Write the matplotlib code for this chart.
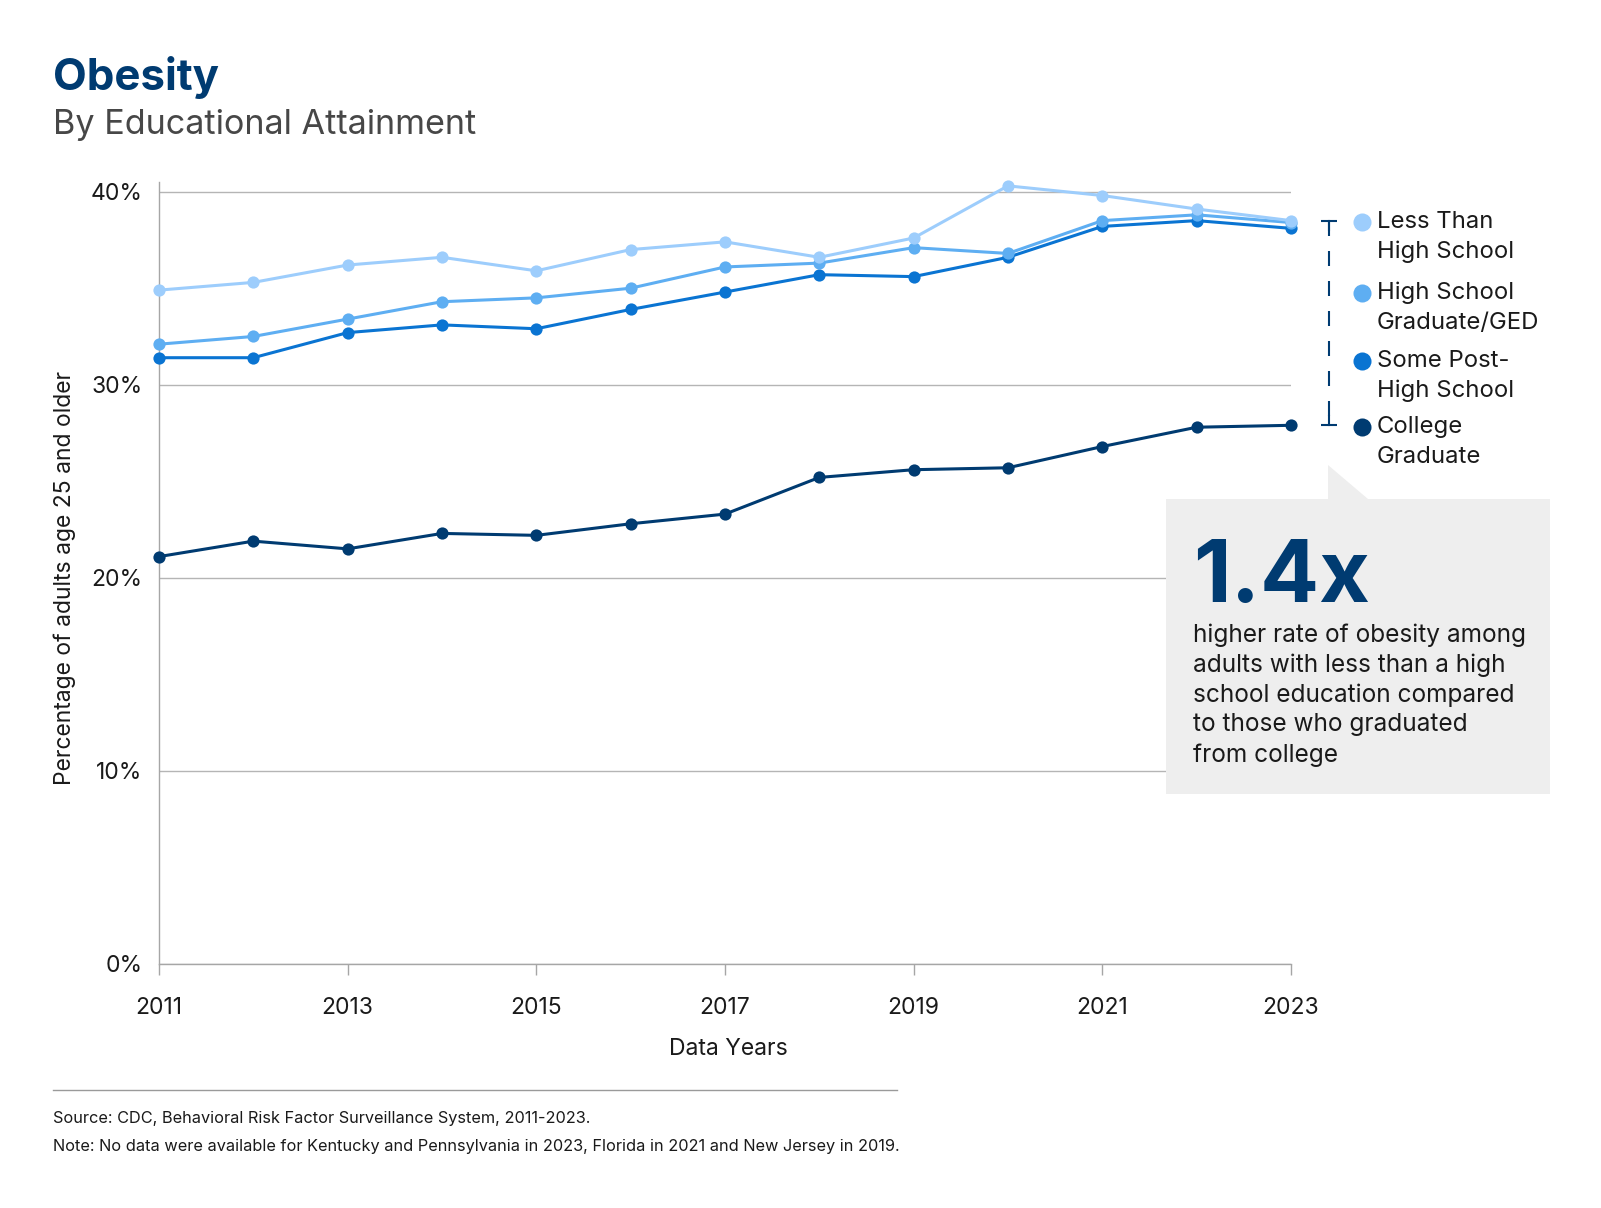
import matplotlib
matplotlib.use("Agg")
import matplotlib.pyplot as plt
from matplotlib import font_manager
from matplotlib.patches import Polygon

# data
years = [2011, 2012, 2013, 2014, 2015, 2016, 2017, 2018, 2019, 2020, 2021, 2022, 2023]
less_than_hs = [34.9, 35.3, 36.2, 36.6, 35.9, 37.0, 37.4, 36.6, 37.6, 40.3, 39.8, 39.1, 38.5]
hs_grad = [32.1, 32.5, 33.4, 34.3, 34.5, 35.0, 36.1, 36.3, 37.1, 36.8, 38.5, 38.8, 38.4]
some_post_hs = [31.4, 31.4, 32.7, 33.1, 32.9, 33.9, 34.8, 35.7, 35.6, 36.6, 38.2, 38.5, 38.1]
college_grad = [21.1, 21.9, 21.5, 22.3, 22.2, 22.8, 23.3, 25.2, 25.6, 25.7, 26.8, 27.8, 27.9]

series_labels = ["Less Than\nHigh School", "High School\nGraduate/GED",
                 "Some Post-\nHigh School", "College\nGraduate"]
series_colors = ["#9dcdfc", "#5eaef2", "#0a74d2", "#003b71"]
y_ticks = [0, 10, 20, 30, 40]
x_ticks = [2011, 2013, 2015, 2017, 2019, 2021, 2023]

callout_big = "1.4x"
callout_text = ["higher rate of obesity among", "adults with less than a high",
                "school education compared", "to those who graduated", "from college"]
source_note = "Source: CDC, Behavioral Risk Factor Surveillance System, 2011-2023."
data_note = ("Note: No data were available for Kentucky and Pennsylvania in 2023, "
             "Florida in 2021 and New Jersey in 2019.")

NAVY = "#003b71"
W, H = 1601, 1208

installed = {f.name for f in font_manager.fontManager.ttflist}
main_font = "Inter" if "Inter" in installed else "DejaVu Sans"
narrow_font = "Liberation Sans Narrow" if "Liberation Sans Narrow" in installed else main_font
plt.rcParams["font.family"] = [main_font, "DejaVu Sans"]


def px(x, y):
    return x / W, 1 - y / H


fig = plt.figure(figsize=(W / 100, H / 100), dpi=100)
ax = fig.add_axes([159 / W, 1 - 964 / H, 1132 / W, 782 / H])

all_series = [less_than_hs, hs_grad, some_post_hs, college_grad]
# darkest first so the lighter lines sit on top
for vals, col in reversed(list(zip(all_series, series_colors))):
    ax.plot(years, vals, color=col, lw=2.2, marker="o", ms=8.8,
            markeredgewidth=0, clip_on=False, zorder=3)

ax.set_xlim(2011, 2023)
ax.set_ylim(0, 40.5)
ax.set_xticks(x_ticks)
ax.set_xticklabels([str(y) for y in x_ticks])
ax.set_yticks(y_ticks)
ax.set_yticklabels([f"{v}%" for v in y_ticks])
ax.tick_params(axis="x", length=8, width=1, color="#a6a6a6", pad=16,
               labelsize=16.5, labelcolor="#1a1a1a")
ax.tick_params(axis="y", length=0, pad=12, labelsize=16.5, labelcolor="#1a1a1a")
ax.yaxis.grid(True, color="#b5b5b5", lw=1.0)
ax.set_axisbelow(True)
for s in ["top", "right"]:
    ax.spines[s].set_visible(False)
for s in ["left", "bottom"]:
    ax.spines[s].set_color("#a6a6a6")
    ax.spines[s].set_linewidth(1.0)

# bracket between the top and bottom 2023 values
bx = 2023.40
top, bot = less_than_hs[-1], college_grad[-1]
ax.plot([bx, bx], [top, bot], color=NAVY, lw=1.5, dashes=(7.2, 7.2),
        clip_on=False)
for v in (top, bot):
    ax.plot([bx - 0.085, bx + 0.085], [v, v], color=NAVY, lw=1.5,
            clip_on=False, solid_capstyle="butt")
ax.plot([bx, bx], [top, top - 0.5], color=NAVY, lw=1.5, clip_on=False)
ax.plot([bx, bx], [bot, bot + 0.5], color=NAVY, lw=1.5, clip_on=False)

# titles
fig.text(*px(53, 90), "Obesity", fontsize=31.5, fontweight="bold",
         color=NAVY, va="baseline", ha="left")
fig.text(*px(53, 134), "By Educational Attainment", fontsize=24.6,
         color="#474747", va="baseline", ha="left")

fig.text(*px(65, 578), "Percentage of adults age 25 and older", fontsize=16.5,
         rotation=90, ha="center", va="center", color="#1a1a1a")
fig.text(*px(728, 1049), "Data Years", fontsize=16.5, ha="center",
         va="center", color="#1a1a1a")

# custom legend
legend_y = [222, 293, 361, 427]
for lab, col, ly in zip(series_labels, series_colors, legend_y):
    fig.lines.append(plt.Line2D([1362 / W], [1 - ly / H], marker="o", ms=13,
                                color=col, markeredgewidth=0,
                                transform=fig.transFigure))
    for i, line in enumerate(lab.split("\n")):
        fig.text(*px(1377, ly + 30 * i), line, fontsize=17.2, ha="left",
                 va="center", color="#1a1a1a")

# callout box
box = Polygon([px(1166, 499), px(1328, 499), px(1328, 465), px(1368, 499),
               px(1550, 499), px(1550, 794), px(1166, 794)], closed=True,
              transform=fig.transFigure, facecolor="#eeeeee",
              edgecolor="none", zorder=0)
fig.patches.append(box)
fig.text(*px(1193, 602), callout_big, fontsize=63, fontweight="bold",
         color=NAVY, ha="left", va="baseline")
for i, line in enumerate(callout_text):
    fig.text(*px(1193, 635 + 30 * i), line, fontsize=17.6, ha="left",
             va="center", color="#1a1a1a")

# footer
fig.lines.append(plt.Line2D([53 / W, 897 / W], [1 - 1090 / H, 1 - 1090 / H],
                            color="#9a9a9a", lw=1.0,
                            transform=fig.transFigure))
t1 = fig.text(*px(53, 1118), source_note, fontsize=13, family=[narrow_font, "DejaVu Sans"],
              ha="left", va="center", color="#1a1a1a")
t2 = fig.text(*px(53, 1146), data_note, fontsize=13, family=[narrow_font, "DejaVu Sans"],
              ha="left", va="center", color="#1a1a1a")

# fit the note width to the reference (~845 px)
fig.canvas.draw()
r = fig.canvas.get_renderer()
w = t2.get_window_extent(r).width
scale = 845 / w
t1.set_fontsize(13 * scale)
t2.set_fontsize(13 * scale)

fig.savefig("out.png", dpi=100, facecolor="white")
